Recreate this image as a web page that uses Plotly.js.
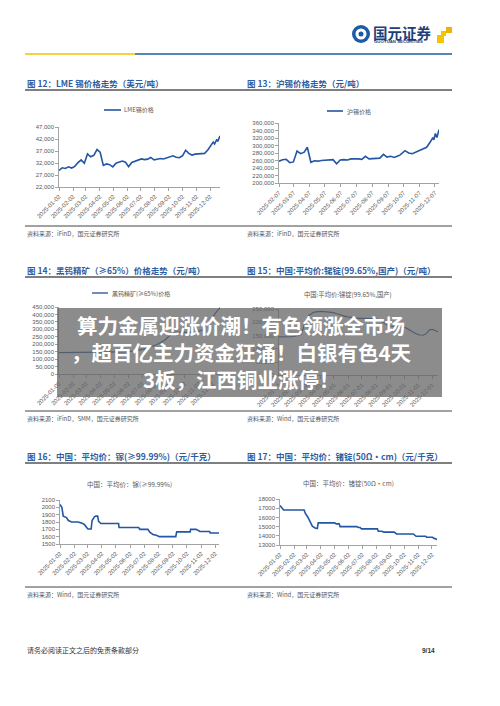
<!DOCTYPE html>
<html><head><meta charset="utf-8">
<script src="https://cdn.plot.ly/plotly-3.0.1.min.js"></script>
<style>html,body{margin:0;padding:0;background:#fff}#chart{width:500px;height:706px}</style>
</head><body><div id="chart"></div>
<script>
// ---------- DATA ----------
const lmeDates = ["2025-01-02","2025-01-09","2025-01-16","2025-01-23","2025-01-30","2025-02-06","2025-02-13","2025-02-20","2025-02-27","2025-03-06","2025-03-13","2025-03-20","2025-03-27","2025-04-03","2025-04-10","2025-04-17","2025-04-24","2025-05-01","2025-05-08","2025-05-15","2025-05-22","2025-05-29","2025-06-05","2025-06-12","2025-06-19","2025-06-26","2025-07-03","2025-07-10","2025-07-17","2025-07-24","2025-07-31","2025-08-07","2025-08-14","2025-08-21","2025-08-28","2025-09-04","2025-09-11","2025-09-18","2025-09-25","2025-10-02","2025-10-09","2025-10-16","2025-10-23","2025-10-30","2025-11-06","2025-11-13","2025-11-20","2025-11-27","2025-12-04","2025-12-09","2025-12-12","2025-12-17","2025-12-19","2025-12-24"];
const lmeTin = [28900,30000,29700,30400,29900,30600,32200,33300,31900,35800,34600,35200,37600,36500,31000,31600,31300,30400,31900,32400,32800,32300,30500,32200,32700,33100,33700,33400,33600,34300,33300,33600,33900,33700,34200,34600,35000,34400,34200,35000,37300,36000,35300,35700,35800,36200,36000,37400,39200,40700,39900,41800,41000,43300];

const shfeDates = ["2025-02-07","2025-02-14","2025-02-21","2025-02-28","2025-03-07","2025-03-14","2025-03-21","2025-03-28","2025-04-03","2025-04-10","2025-04-17","2025-04-24","2025-04-30","2025-05-09","2025-05-16","2025-05-23","2025-05-30","2025-06-06","2025-06-13","2025-06-20","2025-06-27","2025-07-04","2025-07-11","2025-07-18","2025-07-25","2025-08-01","2025-08-08","2025-08-15","2025-08-22","2025-08-29","2025-09-05","2025-09-12","2025-09-19","2025-09-26","2025-09-30","2025-10-10","2025-10-17","2025-10-24","2025-10-31","2025-11-07","2025-11-14","2025-11-21","2025-11-28","2025-12-03","2025-12-05","2025-12-08","2025-12-11","2025-12-15"];
const shfeTin = [259000,263000,264000,255000,257000,286000,279000,283000,296000,256000,260000,259000,261000,262000,261000,263000,252000,262000,263000,262000,265000,266000,265000,264000,272000,265000,266000,268000,267000,277000,270000,272000,269000,273000,275000,287000,281000,279000,283000,287000,292000,296000,310000,322000,316000,333000,322000,343000];

const weeklyDates = ["2025-01-02","2025-01-09","2025-01-16","2025-01-23","2025-01-30","2025-02-06","2025-02-13","2025-02-20","2025-02-27","2025-03-06","2025-03-13","2025-03-20","2025-03-27","2025-04-03","2025-04-10","2025-04-17","2025-04-24","2025-05-01","2025-05-08","2025-05-15","2025-05-22","2025-05-29","2025-06-05","2025-06-12","2025-06-19","2025-06-26","2025-07-03","2025-07-10","2025-07-17","2025-07-24","2025-07-31","2025-08-07","2025-08-14","2025-08-21","2025-08-28","2025-09-04","2025-09-11","2025-09-18","2025-09-25","2025-10-02","2025-10-09","2025-10-16","2025-10-23","2025-10-30","2025-11-06","2025-11-13","2025-11-20","2025-11-27","2025-12-04","2025-12-11","2025-12-18"];
const tungsten = [143000,143000,143000,143500,143500,144000,144000,144000,144500,145000,145000,145000,145000,145500,146000,146000,146000,147000,147500,148000,148500,149000,151000,154000,157000,160000,165000,170000,178000,185000,195000,205000,215000,230000,250000,272000,282000,280000,279000,280000,280000,279000,280000,284000,290000,300000,335000,360000,390000,420000,445000];

const sbDates = ["2025-01-01","2025-01-08","2025-01-15","2025-01-22","2025-01-29","2025-02-05","2025-02-12","2025-02-19","2025-02-26","2025-03-05","2025-03-12","2025-03-19","2025-03-26","2025-04-02","2025-04-09","2025-04-16","2025-04-23","2025-04-30","2025-05-07","2025-05-14","2025-05-21","2025-05-28","2025-06-04","2025-06-11","2025-06-18","2025-06-25","2025-07-02","2025-07-09","2025-07-16","2025-07-23","2025-07-30","2025-08-06","2025-08-13","2025-08-20","2025-08-27","2025-09-03","2025-09-10","2025-09-17","2025-09-24","2025-10-01","2025-10-08","2025-10-15","2025-10-22","2025-10-29","2025-11-05","2025-11-12","2025-11-19","2025-11-26","2025-12-03","2025-12-10","2025-12-14"];
const antimony = [145000,145000,145000,145000,146000,148000,150000,155000,195000,222000,232000,238000,240000,241000,240000,239000,238000,236000,232000,228000,224000,221000,219000,217000,216000,215000,215000,215000,216000,216000,214000,210000,203000,195000,188000,185000,184000,184000,183000,182000,176000,168000,162000,155000,152000,151000,158000,172000,172000,167000,164000];

const gaDates = ["2025-01-02","2025-01-06","2025-01-09","2025-01-16","2025-01-20","2025-01-27","2025-02-10","2025-02-20","2025-02-24","2025-02-27","2025-03-03","2025-03-10","2025-03-12","2025-03-17","2025-03-20","2025-03-24","2025-03-26","2025-03-31","2025-05-08","2025-05-09","2025-06-20","2025-06-23","2025-07-10","2025-07-14","2025-07-21","2025-07-28","2025-08-04","2025-09-08","2025-09-10","2025-10-09","2025-10-10","2025-10-22","2025-10-24","2025-10-30","2025-11-20","2025-11-21","2025-12-10"];
const gallium = [2040,2000,1880,1860,1820,1800,1800,1780,1760,1740,1705,1705,1820,1870,1880,1880,1810,1780,1780,1725,1725,1700,1700,1660,1630,1620,1600,1600,1665,1665,1700,1700,1690,1670,1670,1650,1650];

const geDates = ["2025-01-02","2025-01-06","2025-01-10","2025-02-24","2025-02-27","2025-03-04","2025-03-10","2025-03-14","2025-03-20","2025-03-25","2025-03-27","2025-05-02","2025-05-06","2025-05-12","2025-05-14","2025-06-20","2025-06-23","2025-06-27","2025-06-30","2025-08-04","2025-08-06","2025-08-14","2025-08-18","2025-09-10","2025-09-15","2025-10-22","2025-10-28","2025-11-18","2025-11-20","2025-12-03","2025-12-05","2025-12-10","2025-12-13"];
const germanium = [17300,17050,16800,16800,16400,16050,15400,15050,14850,14800,15400,15400,15300,15300,15000,15000,14900,14900,14750,14750,14500,14500,14400,14400,14200,14200,13950,13950,13850,13850,13750,13700,13600];

// ---------- LAYOUT HELPERS ----------
const W=500,H=706;
const X=p=>p/W, Y=p=>1-p/H;
const axisColor='#8c8c8c';
const tickFont={family:'Liberation Sans, Arial, sans-serif',size:6,color:'#595959'};
const cjk='Noto Sans CJK SC, sans-serif';

function xax(l,r,range,tick0,anchor){
  return {domain:[X(l),X(r)],type:'date',range:range,tick0:tick0,dtick:'M1',tickformat:'%Y-%m-%d',
    tickangle:-45,ticks:'outside',ticklen:3,tickcolor:axisColor,tickwidth:0.8,showline:true,linecolor:axisColor,linewidth:0.8,
    showgrid:false,zeroline:false,tickfont:tickFont,anchor:anchor,fixedrange:true,automargin:false};
}
function yax(top,bot,range,dtick,fmt,anchor){
  return {domain:[Y(bot),Y(top)],range:range,dtick:dtick,tick0:range[0],tickformat:fmt,ticks:'outside',ticklen:3,
    tickcolor:axisColor,tickwidth:0.8,showline:true,linecolor:axisColor,linewidth:0.8,showgrid:false,zeroline:false,
    tickfont:tickFont,anchor:anchor,fixedrange:true,automargin:false};
}

const blue='#2356a4', navy='#24508f';
const traces=[
  {x:lmeDates,y:lmeTin,xaxis:'x',yaxis:'y',mode:'lines',line:{color:blue,width:1.6}},
  {x:shfeDates,y:shfeTin,xaxis:'x2',yaxis:'y2',mode:'lines',line:{color:blue,width:1.6}},
  {x:weeklyDates,y:tungsten,xaxis:'x3',yaxis:'y3',mode:'lines',line:{color:navy,width:1.2}},
  {x:sbDates,y:antimony,xaxis:'x4',yaxis:'y4',mode:'lines',line:{color:navy,width:1.2}},
  {x:gaDates,y:gallium,xaxis:'x5',yaxis:'y5',mode:'lines',line:{color:blue,width:1.6}},
  {x:geDates,y:germanium,xaxis:'x6',yaxis:'y6',mode:'lines',line:{color:blue,width:1.6}}
];

function txt(x,y,t,size,color,anchor,extra){
  return Object.assign({xref:'paper',yref:'paper',x:X(x),y:Y(y),text:t,showarrow:false,
    xanchor:anchor||'left',yanchor:'middle',font:{family:cjk,size:size,color:color}},extra||{});
}
function hline(x0,x1,y,color,w){
  return {type:'line',xref:'paper',yref:'paper',x0:X(x0),x1:X(x1),y0:Y(y),y1:Y(y),line:{color:color,width:w}};
}
function rect(x0,y0,x1,y1,fill,layer){
  return {type:'rect',xref:'paper',yref:'paper',x0:X(x0),x1:X(x1),y0:Y(y1),y1:Y(y0),fillcolor:fill,line:{width:0},layer:layer||'below'};
}
function circ(x0,y0,x1,y1,fill){
  return {type:'circle',xref:'paper',yref:'paper',x0:X(x0),x1:X(x1),y0:Y(y1),y1:Y(y0),fillcolor:fill,line:{width:0}};
}

const titleColor='#2f5d9f', srcColor='#555555', legColor='#595959';
const annotations=[
  // logo
  txt(371,33,'<b>国元证券</b>',14.5,'#1c3f7a','left'),
  txt(372,41.5,'<b>GUOYUAN SECURITIES</b>',4.3,'#1c3f7a','left',{font:{family:'Liberation Sans, Arial',size:4.3,color:'#1c3f7a'}}),
  // section titles
  txt(25,83,'<b>图 12：LME 锡价格走势（美元/吨）</b>',8.5,titleColor),
  txt(245,83,'<b>图 13：沪锡价格走势（元/吨）</b>',8.5,titleColor),
  txt(25,270,'<b>图 14：黑钨精矿（≥65%）价格走势（元/吨）</b>',8.5,titleColor),
  txt(245,270,'<b>图 15：中国:平均价:锑锭(99.65%,国产)（元/吨）</b>',8.5,titleColor),
  txt(25,456,'<b>图 16：中国：平均价：镓(≥99.99%)（元/千克）</b>',8.5,titleColor),
  txt(245,456,'<b>图 17：中国：平均价：锗锭(50Ω·cm)（元/千克）</b>',8.5,titleColor),
  // legends / chart titles
  txt(122,110,'LME锡价格',6,legColor),
  txt(345,111,'沪锡价格',6,legColor),
  txt(110,293,'黑钨精矿(≥65%)价格',6,legColor),
  txt(348,294,'中国:平均价:锑锭(99.65%,国产)',6.3,legColor,'center'),
  txt(129,484,'中国：平均价：镓(≥99.99%)',6.5,legColor,'center'),
  txt(348,483,'中国：平均价：锗锭(50Ω·cm)',6.5,legColor,'center'),
  // sources
  txt(25,233,'资料来源：iFinD，国元证券研究所',6,srcColor),
  txt(245,233,'资料来源：iFinD，国元证券研究所',6,srcColor),
  txt(25,418,'资料来源：iFinD，SMM，国元证券研究所',6,srcColor),
  txt(245,418,'资料来源：Wind，国元证券研究所',6,srcColor),
  txt(25,594,'资料来源：Wind，国元证券研究所',6,srcColor),
  txt(245,594,'资料来源：Wind，国元证券研究所',6,srcColor),
  // footer
  txt(25,650,'请务必阅读正文之后的免责条款部分',7,'#333333'),
  txt(437,650,'<b>9/14</b>',6.5,'#333333','right',{font:{family:'Liberation Sans, Arial',size:6.5,color:'#333333'}}),
  // overlay headline
  txt(241,325,'<b>算力金属迎涨价潮！有色领涨全市场</b>',20.5,'#ffffff','center'),
  txt(241,352,'<b>，超百亿主力资金狂涌！白银有色4天</b>',20.5,'#ffffff','center'),
  txt(241,379,'<b>3板，江西铜业涨停！</b>',20.5,'#ffffff','center')
];

const shapes=[
  // header rule
  hline(25,135,54,'#f2c200',1.6),
  hline(135,452,54,'#1f5aa6',1.6),
  // logo mark
  circ(352,25,370,43,'#1d5aa8'),
  circ(355.5,28.5,366.5,39.5,'#ffffff'),
  circ(358.5,31.5,363.5,36.5,'#1d5aa8'),
  rect(437,35,444,43,'#f5c400'),
  rect(441,31,446,36,'#f5c400'),
  rect(446,27,452,33,'#f0b400'),
  // title rules
  hline(25,452,90,'#555555',1.4),
  hline(25,452,277,'#555555',1.4),
  hline(25,452,463,'#555555',1.4),
  // source rules
  hline(25,452,226,'#444444',1),
  hline(25,452,411,'#444444',1),
  hline(25,452,587,'#444444',1),
  // legend samples
  hline(104,121,110,blue,1.6),
  hline(327,343,111,blue,1.6),
  hline(92,108,293,navy,1.3),
  // overlay box
  rect(57,308,442,397,'rgba(100,100,100,0.74)','above')
];

const layout={
  width:W,height:H,margin:{l:0,r:0,t:0,b:0},paper_bgcolor:'#ffffff',plot_bgcolor:'rgba(0,0,0,0)',showlegend:false,
  xaxis: xax(59,220,['2025-01-02','2025-12-24'],'2025-01-02','y'),
  yaxis: yax(127,187,[22000,47000],5000,',d','x'),
  xaxis2:xax(279,439,['2025-02-07','2025-12-15'],'2025-02-07','y2'),
  yaxis2:yax(123.3,183.3,[200000,360000],20000,',d','x2'),
  xaxis3:xax(59,220,['2025-01-02','2025-12-18'],'2025-01-02','y3'),
  yaxis3:yax(307,374,[0,450000],50000,',d','x3'),
  xaxis4:xax(279,438,['2025-01-01','2025-12-14'],'2025-01-01','y4'),
  yaxis4:yax(309,375.3,[0,250000],50000,',d','x4'),
  xaxis5:xax(60,219,['2025-01-02','2025-12-10'],'2025-01-02','y5'),
  yaxis5:yax(500,544,[1500,2100],100,'d','x5'),
  xaxis6:xax(280,437,['2025-01-02','2025-12-13'],'2025-01-02','y6'),
  yaxis6:yax(499,545,[13000,18000],1000,'d','x6'),
  annotations:annotations,shapes:shapes
};
Plotly.newPlot('chart',traces,layout,{staticPlot:true,displayModeBar:false});
</script></body></html>
